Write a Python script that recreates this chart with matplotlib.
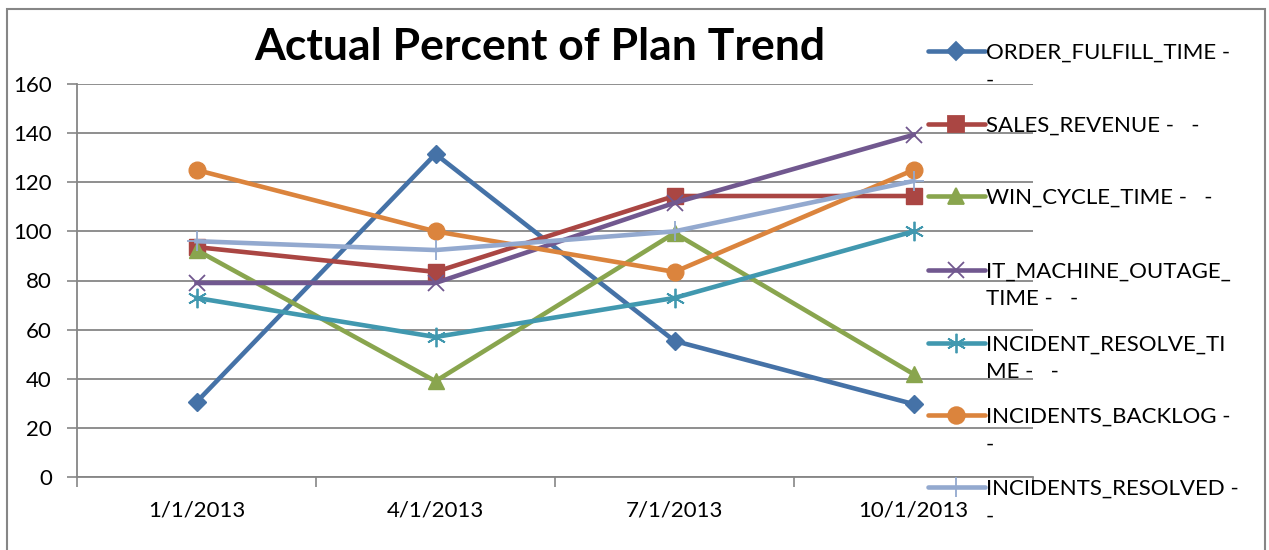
import matplotlib
matplotlib.use("Agg")
import matplotlib.pyplot as plt
from matplotlib.lines import Line2D
from matplotlib.patches import Rectangle

plt.rcParams['font.family'] = ['Lato', 'DejaVu Sans']

dates = ["1/1/2013", "4/1/2013", "7/1/2013", "10/1/2013"]

order_fulfill = [30.5, 131.5, 55.4, 29.7]
sales_revenue = [93.6, 83.5, 114.4, 114.4]
win_cycle = [92.4, 39.0, 99.3, 41.9]
it_outage = [79.0, 79.0, 111.6, 139.3]
incident_resolve = [72.9, 57.0, 72.9, 100.0]
incidents_backlog = [125.0, 100.0, 83.5, 125.0]
incidents_resolved = [96.0, 92.4, 100.0, 120.5]

labels = ["ORDER_FULFILL_TIME -\n-", "SALES_REVENUE -   -", "WIN_CYCLE_TIME -   -",
          "IT_MACHINE_OUTAGE_\nTIME -   -", "INCIDENT_RESOLVE_TI\nME -   -",
          "INCIDENTS_BACKLOG -\n-", "INCIDENTS_RESOLVED -\n-"]
series = [order_fulfill, sales_revenue, win_cycle, it_outage,
          incident_resolve, incidents_backlog, incidents_resolved]
colors = ["#4572A7", "#AA4643", "#89A54E", "#71588F", "#4198AF", "#DB843D", "#93A9CF"]
markers = ["D", "s", "^", "x", (6, 2, 0), "o", "+"]
msizes = [9, 11, 12, 11, 14, 12, 15]

fig = plt.figure(figsize=(12.69, 5.5), dpi=100)
fig.add_artist(Rectangle((7 / 1269, -0.05), 1258 / 1269, 1 - 9 / 550 + 0.05,
                         transform=fig.transFigure, fill=False, edgecolor="#868686", lw=1.5))
ax = fig.add_axes([77 / 1269, 1 - 477 / 550, (1033 - 77) / 1269, (477 - 84) / 550])

x = range(len(dates))
for s, c, m, ms in zip(series, colors, markers, msizes):
    thin = m in ("x", "+") or isinstance(m, tuple)
    ax.plot(x, s, color=c, lw=3.3, marker=m, markersize=ms, markeredgecolor=c,
            markerfacecolor=c, markeredgewidth=1.3 if thin else 1, clip_on=False, zorder=3)

ax.set_xlim(-0.5, 3.5)
ax.set_ylim(0, 160)
ax.set_yticks(range(0, 161, 20))
ax.set_xticks([-0.5, 0.5, 1.5, 2.5, 3.5])
ax.set_xticklabels([])
ax.set_xticks(list(x), minor=True)
ax.set_xticklabels(dates, minor=True)
ax.tick_params(axis="x", which="minor", length=0, pad=17, labelsize=16)
ax.tick_params(axis="x", which="major", length=7, color="#868686", width=1.2)
ax.tick_params(axis="y", length=7, color="#868686", width=1.2, labelsize=16, pad=11)
ax.grid(axis="y", color="#868686", lw=1.3)
ax.set_axisbelow(True)
for side in ("top", "right"):
    ax.spines[side].set_visible(False)
for side in ("left", "bottom"):
    ax.spines[side].set_color("#868686")
    ax.spines[side].set_linewidth(1.3)

fig.text(540 / 1269, 1 - 47 / 550, "Actual Percent of Plan Trend", fontsize=32,
         fontweight="bold", ha="center", va="center")

# legend drawn by hand to get the wrapped Excel look
leg_y = [51, 124, 196, 270, 343, 415, 487]
for lab, c, m, ms, yy in zip(labels, colors, markers, msizes, leg_y):
    fy = 1 - yy / 550
    fig.add_artist(Line2D([928 / 1269, 985 / 1269], [fy, fy], transform=fig.transFigure,
                          color=c, lw=3.3, solid_capstyle="round"))
    fig.add_artist(Line2D([956 / 1269], [fy], transform=fig.transFigure, color=c,
                          marker=m, markersize=ms, markerfacecolor=c, markeredgecolor=c,
                          markeredgewidth=1.3, lw=0))
    fig.text(986 / 1269, fy + 8 / 550, lab, fontsize=16, ha="left", va="top",
             linespacing=1.45)

fig.savefig("out.png", dpi=100)
